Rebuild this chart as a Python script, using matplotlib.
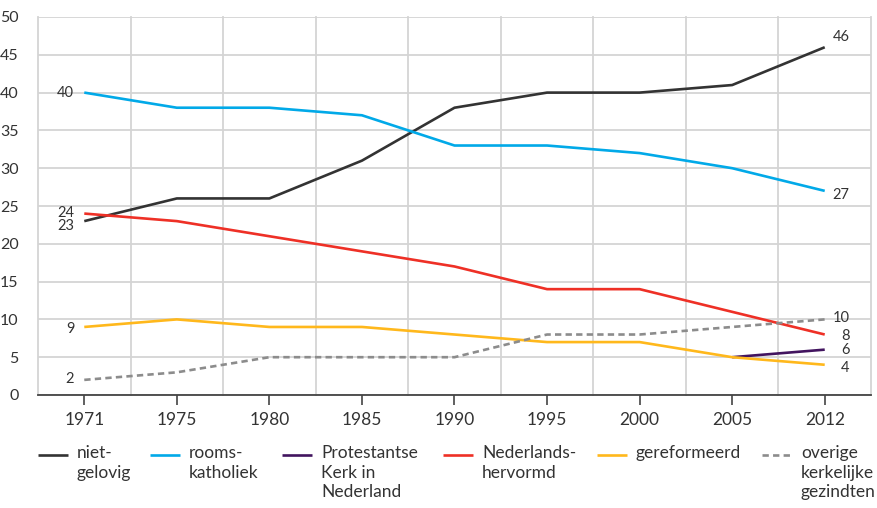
import matplotlib
matplotlib.use("Agg")
import matplotlib.pyplot as plt
from matplotlib.lines import Line2D
import numpy as np

plt.rcParams['font.family'] = ['Lato', 'DejaVu Sans']

years = ['1971', '1975', '1980', '1985', '1990', '1995', '2000', '2005', '2012']
niet_gelovig = [23, 26, 26, 31, 38, 40, 40, 41, 46]
rooms_katholiek = [40, 38, 38, 37, 33, 33, 32, 30, 27]
pkn_years = ['2005', '2012']
pkn = [5, 6]
ned_hervormd = [24, 23, 21, 19, 17, 14, 14, 11, 8]
gereformeerd = [9, 10, 9, 9, 8, 7, 7, 5, 4]
overige = [2, 3, 5, 5, 5, 8, 8, 9, 10]

labels = ['niet-\ngelovig', 'rooms-\nkatholiek', 'Protestantse\nKerk in\nNederland',
          'Nederlands-\nhervormd', 'gereformeerd', 'overige\nkerkelijke\ngezindten']
colors = ['#333333', '#01a9e8', '#42145f', '#ee3026', '#ffb81c', '#8c8c8c']

TXT = '#333333'
W, H = 878, 508
fig = plt.figure(figsize=(W / 100, H / 100), dpi=100)
ax = fig.add_axes([38 / W, 1 - 395 / H, (871 - 38) / W, (395 - 17) / H])

x = np.arange(len(years))
xp = np.array([years.index(y) for y in pkn_years])
lw = 1.9
series = [(x, niet_gelovig), (x, rooms_katholiek), (xp, pkn),
          (x, ned_hervormd), (x, gereformeerd), (x, overige)]
order = [4, 2, 5, 3, 1, 0]
for i in order:
    xs, ys = series[i]
    kw = dict(color=colors[i], lw=lw, solid_capstyle='butt', zorder=3 + i * 0.1)
    if i == 5:
        kw.update(dashes=(2.4, 1.6), dash_capstyle='butt')
    ax.plot(xs, ys, **kw)

ax.set_xlim(-0.5, len(years) - 0.5)
ax.set_ylim(0, 50)
ax.set_yticks(np.arange(0, 51, 5))
ax.set_xticks(x)
ax.set_xticklabels(years)
ax.set_xticks(np.arange(-0.5, len(years), 1), minor=True)
ax.grid(which='minor', axis='x', color='#d4d4d4', lw=1.3, clip_on=False)
ax.grid(which='major', axis='y', color='#d4d4d4', lw=1.3)
ax.grid(which='major', axis='x', visible=False)
ax.set_axisbelow(True)
for s in ['top', 'right', 'left']:
    ax.spines[s].set_visible(False)
ax.spines['bottom'].set_color('#444444')
ax.spines['bottom'].set_linewidth(1.3)
ax.tick_params(axis='x', which='major', length=7, width=1.2, color='#444444',
               labelsize=12.5, labelcolor=TXT, pad=5)
ax.tick_params(axis='x', which='minor', length=0)
ax.tick_params(axis='y', length=0, labelsize=11.5, labelcolor=TXT, pad=14)

fs = 10.5
# start labels
start = [(rooms_katholiek[0], 0), (ned_hervormd[0], 1), (niet_gelovig[0], -5),
         (gereformeerd[0], -2), (overige[0], 1)]
for v, dy in start:
    ax.annotate(str(v), (0, v), xytext=(-10, dy), textcoords='offset pixels',
                ha='right', va='center', fontsize=fs, color=TXT)
# end labels
end = [(niet_gelovig[-1], 10), (rooms_katholiek[-1], -4), (overige[-1], 1),
       (ned_hervormd[-1], -1), (pkn[-1], 0), (gereformeerd[-1], -3)]
for v, dy in end:
    ax.annotate(str(v), (len(years) - 1, v), xytext=(25, dy), textcoords='offset pixels',
                ha='right', va='center', fontsize=fs, color=TXT)

# legend
hx = [38, 150, 282, 443, 597, 762]
ly = 455
for i in range(6):
    ln = Line2D([hx[i], hx[i] + 30], [H - ly, H - ly], color=colors[i], lw=lw,
                solid_capstyle='butt', transform=None)
    if i == 5:
        ln.set_dashes((2.4, 1.6))
    fig.add_artist(ln)
    fig.text((hx[i] + 39) / W, 1 - (ly - 10) / H, labels[i], ha='left', va='top',
             fontsize=12.5, color=TXT, linespacing=1.27)

fig.savefig('out.png', dpi=100)
